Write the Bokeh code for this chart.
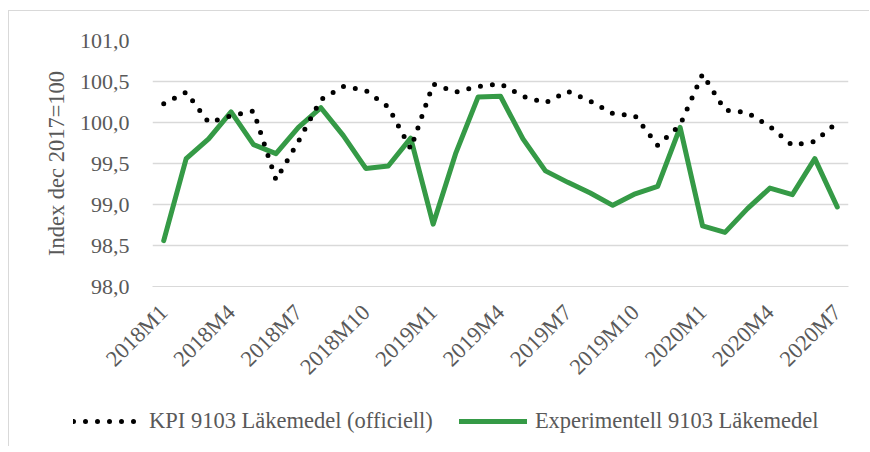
import math
from bokeh.plotting import figure
from bokeh.models import (ColumnDataSource, FixedTicker, CustomJSTickFormatter,
                          Legend, LegendItem, Range1d, Spacer)
from bokeh.layouts import column, row
from bokeh.embed import file_html
from bokeh.resources import INLINE

months = ["2018M1", "2018M2", "2018M3", "2018M4", "2018M5", "2018M6", "2018M7", "2018M8",
          "2018M9", "2018M10", "2018M11", "2018M12",
          "2019M1", "2019M2", "2019M3", "2019M4", "2019M5", "2019M6", "2019M7", "2019M8",
          "2019M9", "2019M10", "2019M11", "2019M12",
          "2020M1", "2020M2", "2020M3", "2020M4", "2020M5", "2020M6", "2020M7"]

kpi_official = [100.23, 100.37, 100.00, 100.08, 100.14, 99.30, 99.77, 100.28, 100.44, 100.39, 100.19, 99.68,
                100.47, 100.37, 100.44, 100.47, 100.32, 100.24, 100.38, 100.26, 100.11, 100.08, 99.72, 99.97,
                100.59, 100.15, 100.12, 99.95, 99.72, 99.77, 100.00]

experimental = [98.56, 99.56, 99.80, 100.13, 99.73, 99.62, 99.94, 100.18, 99.84, 99.44, 99.47, 99.81,
                98.76, 99.62, 100.31, 100.32, 99.80, 99.41, 99.27, 99.14, 98.99, 99.13, 99.22, 99.94,
                98.74, 98.66, 98.95, 99.20, 99.12, 99.56, 98.97]

x_tick_labels = ["2018M1", "2018M4", "2018M7", "2018M10", "2019M1", "2019M4",
                 "2019M7", "2019M10", "2020M1", "2020M4", "2020M7"]
y_ticks = [98.0, 98.5, 99.0, 99.5, 100.0, 100.5, 101.0]

series_names = ["KPI 9103 Läkemedel (officiell)", "Experimentell 9103 Läkemedel"]
y_label = "Index dec 2017=100"

FONT = "Liberation Serif"
GRAY = "#595959"
GREEN = "#359a46"
BORDER = "1px solid #d9d9d9"
DOTS = "0 12"

idx = list(range(len(months)))
src = ColumnDataSource(dict(x=idx, month=months, kpi=kpi_official, exp=experimental))

p = figure(width=861, height=384, output_backend="svg", toolbar_location=None,
           x_range=Range1d(-0.5, len(months) - 0.5), y_range=Range1d(98.0, 101.0),
           min_border_left=143, min_border_right=22, min_border_top=29, min_border_bottom=109)
p.outline_line_color = None
p.background_fill_color = "white"
p.border_fill_color = "white"
p.styles = {"border-left": BORDER, "border-top": BORDER}

p.line("x", "exp", source=src, line_color=GREEN, line_width=5, line_join="round", line_cap="round")
p.line("x", "kpi", source=src, line_color="black", line_width=5, line_dash=DOTS,
       line_cap="round", line_join="round")

# x axis
tick_pos = [months.index(m) for m in x_tick_labels]
p.xaxis.ticker = FixedTicker(ticks=tick_pos)
p.xaxis.major_label_overrides = {i: m for i, m in zip(tick_pos, x_tick_labels)}
p.xaxis.major_label_orientation = math.pi / 4
p.xaxis.major_tick_line_color = None
p.xaxis.minor_tick_line_color = None
p.xaxis.axis_line_color = "#d9d9d9"
p.xaxis.major_label_text_font = FONT
p.xaxis.major_label_text_font_size = "22.5px"
p.xaxis.major_label_text_color = GRAY
p.xaxis.major_label_standoff = 16
p.xgrid.grid_line_color = None

# y axis
p.yaxis.ticker = FixedTicker(ticks=y_ticks)
p.yaxis.formatter = CustomJSTickFormatter(code="return tick.toFixed(1).replace('.', ',');")
p.yaxis.major_tick_line_color = None
p.yaxis.minor_tick_line_color = None
p.yaxis.axis_line_color = None
p.yaxis.major_label_text_font = FONT
p.yaxis.major_label_text_font_size = "22px"
p.yaxis.major_label_text_color = GRAY
p.yaxis.major_label_standoff = 17
p.yaxis.axis_label = y_label
p.yaxis.axis_label_text_font = FONT
p.yaxis.axis_label_text_font_size = "22.5px"
p.yaxis.axis_label_text_font_style = "normal"
p.yaxis.axis_label_text_color = GRAY
p.yaxis.axis_label_standoff = 8
p.ygrid.grid_line_color = "#d9d9d9"
p.ygrid.grid_line_width = 1.3

# legend strip: separate root so its frame is not aligned to (and clipped like) the chart frame
lf = figure(width=861, height=52, output_backend="svg", toolbar_location=None,
            x_range=Range1d(0, 1), y_range=Range1d(0, 1),
            x_axis_location=None, y_axis_location=None,
            min_border_left=0, min_border_right=0, min_border_top=0, min_border_bottom=0)
lf.outline_line_color = None
lf.grid.grid_line_color = None
lf.border_fill_color = "white"
lf.background_fill_color = "white"
lf.styles = {"border-left": BORDER}
# same series, outside this strip's visible range: only their legend samples show
lk = lf.line("x", "kpi", source=src, line_color="black", line_width=5, line_dash=DOTS, line_cap="round")
le = lf.line("x", "exp", source=src, line_color=GREEN, line_width=5, line_cap="round")

legend = Legend(items=[LegendItem(label=series_names[0], renderers=[lk]),
                       LegendItem(label=series_names[1], renderers=[le])],
                orientation="horizontal", location=(64, 12),
                padding=0, margin=0, spacing=26, glyph_width=68, glyph_height=20,
                label_standoff=8, label_text_font=FONT, label_text_font_size="22.5px",
                label_text_color=GRAY, border_line_color=None, background_fill_alpha=0)
lf.add_layout(legend, "center")

top = column(Spacer(height=10), row(Spacer(width=8), p, spacing=0), spacing=0)
bottom = row(Spacer(width=8), lf, spacing=0)

open("out.html", "w").write(file_html([top, bottom], INLINE))
